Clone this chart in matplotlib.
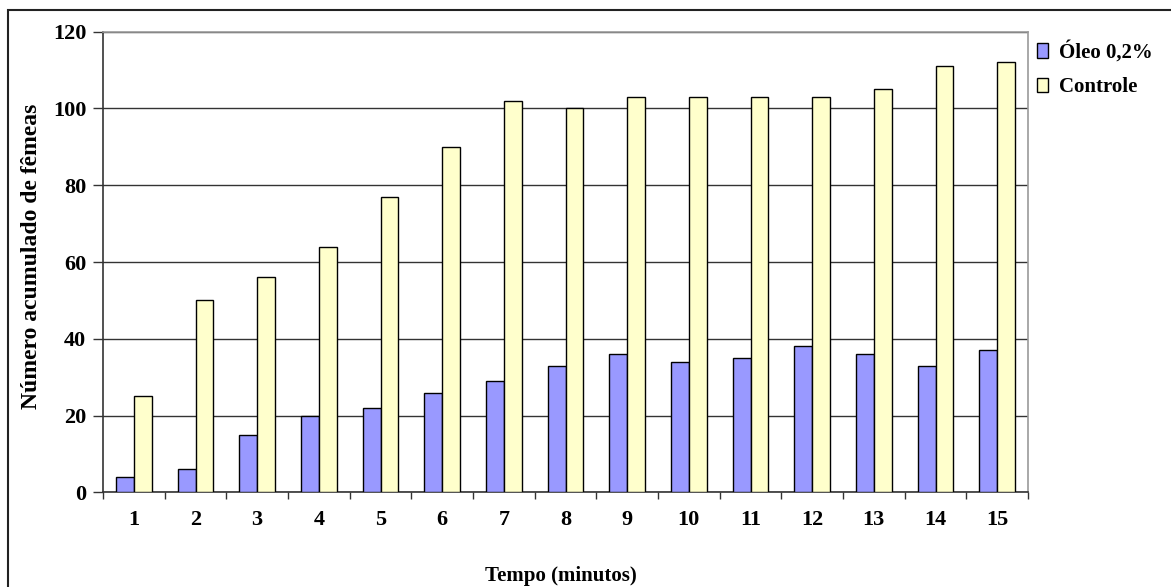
import matplotlib
matplotlib.use("Agg")
import matplotlib.pyplot as plt
from matplotlib.patches import Rectangle
from matplotlib.ticker import FixedLocator, NullFormatter, FixedFormatter
import numpy as np

# Data: cumulative number of females over time
minutes = ["1", "2", "3", "4", "5", "6", "7", "8", "9", "10", "11", "12", "13", "14", "15"]
oleo = [4, 6, 15, 20, 22, 26, 29, 33, 36, 34, 35, 38, 36, 33, 37]
controle = [25, 50, 56, 64, 77, 90, 102, 100, 103, 103, 103, 103, 105, 111, 112]
series_names = ["Óleo 0,2%", "Controle"]
y_ticks = [0, 20, 40, 60, 80, 100, 120]

plt.rcParams["font.family"] = ["Liberation Serif", "DejaVu Serif"]
plt.rcParams["font.weight"] = "bold"

W, H = 1171, 587
fig = plt.figure(figsize=(W / 100, H / 100), dpi=100)
ax = fig.add_axes([103 / W, 1 - 492.3 / H, (1028 - 103) / W, (492.3 - 31.7) / H])

x = np.arange(len(minutes))
w = 0.29
b1 = ax.bar(x - w / 2, oleo, w, color="#9999FF", edgecolor="black", linewidth=1.0,
            label=series_names[0], zorder=3)
b2 = ax.bar(x + w / 2, controle, w, color="#FFFFCC", edgecolor="black", linewidth=1.0,
            label=series_names[1], zorder=3)

ax.set_xlim(-0.5, len(minutes) - 0.5)
ax.set_ylim(0, 120)

# y axis
ax.set_yticks(y_ticks)
ax.set_yticklabels([str(v) for v in y_ticks])
ax.yaxis.grid(True, color="#333333", linewidth=1.0, zorder=0)
ax.set_axisbelow(True)

# x axis: tick marks between categories, labels at category centres
ax.xaxis.set_major_locator(FixedLocator(np.arange(-0.5, len(minutes), 1.0)))
ax.xaxis.set_major_formatter(NullFormatter())
ax.xaxis.set_minor_locator(FixedLocator(x))
ax.xaxis.set_minor_formatter(FixedFormatter(minutes))
ax.tick_params(axis="x", which="minor", length=0, pad=13, labelsize=16)
ax.tick_params(axis="x", which="major", length=5, width=1.0, color="#333333", direction="out")
ax.tick_params(axis="y", length=7, width=1.0, color="#333333", direction="out", pad=5, labelsize=16)

for side in ("top", "right"):
    ax.spines[side].set_color("#9a9a9a")
    ax.spines[side].set_linewidth(1.2)
for side in ("left", "bottom"):
    ax.spines[side].set_color("#333333")
    ax.spines[side].set_linewidth(1.2)

# axis titles
fig.text(32 / W, 1 - 256 / H, "Número acumulado de fêmeas", rotation=90,
         ha="center", va="center", fontsize=17, fontweight="bold")
fig.text(561 / W, 1 - 576 / H, "Tempo (minutos)", ha="center", va="center",
         fontsize=15, fontweight="bold")

fig.legend(handles=[b1, b2], labels=series_names, loc="upper left",
           bbox_to_anchor=(1037 / W, 1 - 41 / H), frameon=False,
           fontsize=15, handlelength=0.55, handleheight=0.7, handletextpad=0.5,
           labelspacing=0.7, borderaxespad=0, borderpad=0)

# chart frame (extends past the right and bottom edges)
top = 1 - 10 / H
fig.add_artist(Rectangle((8 / W, -0.2), 1.2, top + 0.2, transform=fig.transFigure,
                         fill=False, edgecolor="#222222", linewidth=1.5, clip_on=False))

fig.savefig("out.png", dpi=100)
